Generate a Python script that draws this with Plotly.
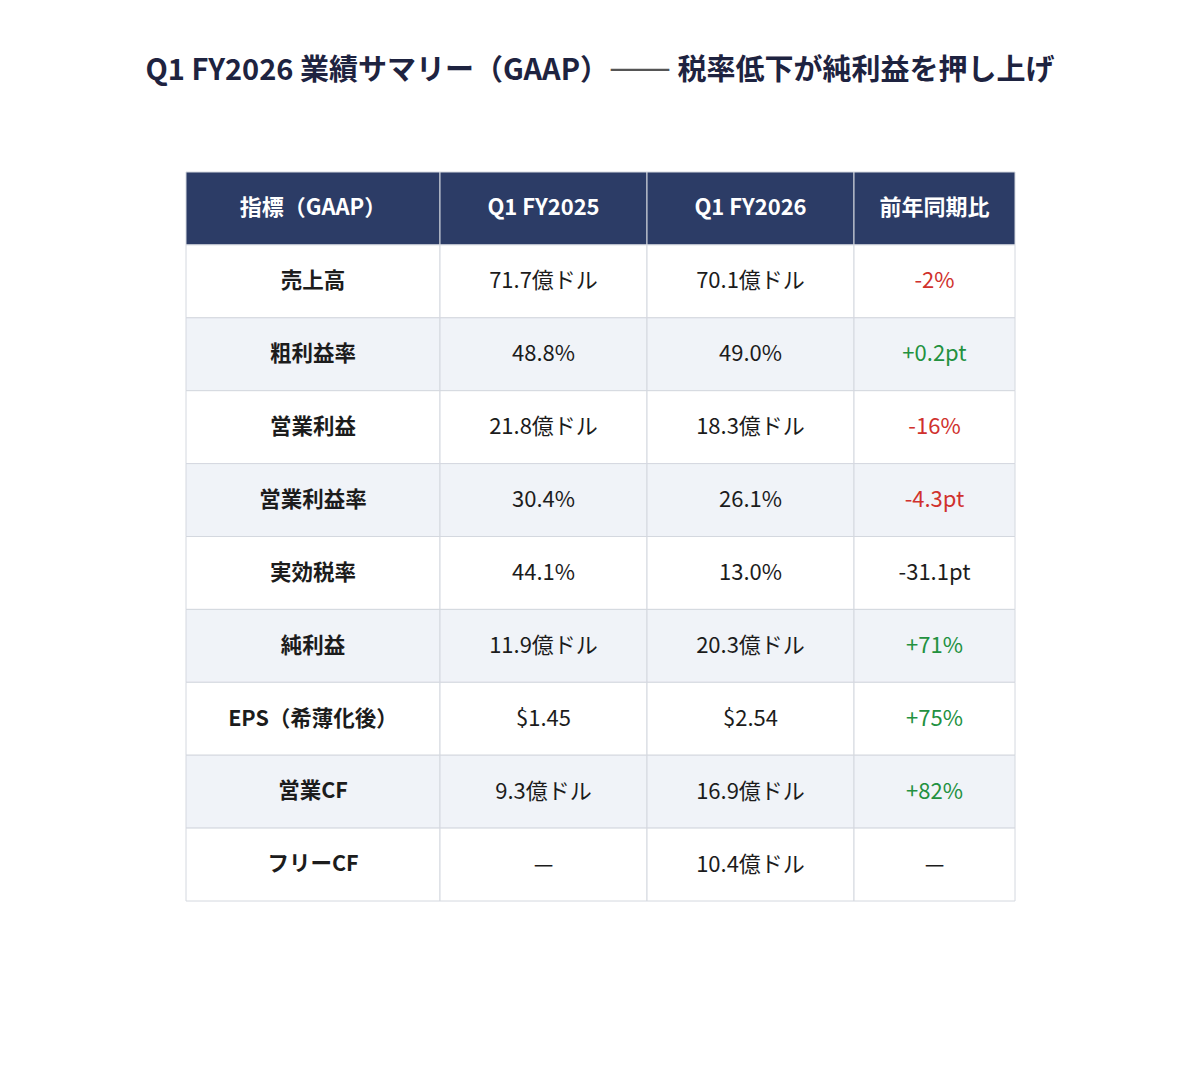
import numpy as np
import plotly.graph_objects as go

# data
title_left = "Q1 FY2026 業績サマリー（GAAP）"
title_right = "税率低下が純利益を押し上げ"
headers = ["指標（GAAP）", "Q1 FY2025", "Q1 FY2026", "前年同期比"]
metrics = ["売上高", "粗利益率", "営業利益", "営業利益率", "実効税率", "純利益",
           "EPS（希薄化後）", "営業CF", "フリーCF"]
fy2025 = ["71.7億ドル", "48.8%", "21.8億ドル", "30.4%", "44.1%", "11.9億ドル",
          "$1.45", "9.3億ドル", "—"]
fy2026 = ["70.1億ドル", "49.0%", "18.3億ドル", "26.1%", "13.0%", "20.3億ドル",
          "$2.54", "16.9億ドル", "10.4億ドル"]
yoy = ["-2%", "+0.2pt", "-16%", "-4.3pt", "-31.1pt", "+71%", "+75%", "+82%", "—"]
# good / bad / neutral for the change column
yoy_tone = ["bad", "good", "bad", "bad", "neutral", "good", "good", "good", "neutral"]

# layout / style (page is drawn 8px in from the window edge)
W, H = 1200, 1073
OFF = 8
FONT = "Noto Sans CJK JP"
NAVY = "#2c3c66"
TEXT = "#1c1c1c"
GRID = "#d4d8df"
tone_col = {"good": "#23913f", "bad": "#d0312d", "neutral": TEXT}
col_widths = [254, 207, 207, 161]
table_left = 186 - OFF
table_top = 172 - OFF
row_h = 72.9
text_dy = 0.02  # nudge text a touch below the cell middle

edges = table_left + np.concatenate([[0], np.cumsum(col_widths)])
centers = (edges[:-1] + edges[1:]) / 2
n = len(metrics)

fig = go.Figure()

shapes = []
for r in range(n + 1):
    if r == 0:
        fill = NAVY
    else:
        fill = "#ffffff" if r % 2 == 1 else "#f0f3f8"
    for c in range(len(col_widths)):
        shapes.append(dict(type="rect", xref="x", yref="y",
                           x0=edges[c], x1=edges[c + 1], y0=r, y1=r + 1,
                           fillcolor=fill, line=dict(color=GRID, width=1),
                           layer="below"))

# header text
fig.add_trace(go.Scatter(
    x=centers, y=[0.5 + text_dy] * len(headers), mode="text",
    text=["<b>%s</b>" % h for h in headers],
    textposition="middle center",
    textfont=dict(family=FONT, size=22, color="white"),
    hoverinfo="skip", showlegend=False,
))

rows_y = np.arange(n) + 1.5 + text_dy
columns = [["<b>%s</b>" % m for m in metrics], fy2025, fy2026, yoy]
colors = [[TEXT] * n, [TEXT] * n, [TEXT] * n, [tone_col[t] for t in yoy_tone]]
for c, (vals, cols) in enumerate(zip(columns, colors)):
    fig.add_trace(go.Scatter(
        x=[centers[c]] * n, y=rows_y, mode="text", text=vals,
        textposition="middle center",
        textfont=dict(family=FONT, size=22 if c else 21.5, color=cols),
        hoverinfo="skip", showlegend=False,
    ))

fig.update_layout(
    width=W, height=H,
    margin=dict(l=0, r=0, t=0, b=0),
    paper_bgcolor="white", plot_bgcolor="white",
    shapes=shapes,
    xaxis=dict(range=[0, W], visible=False, fixedrange=True),
    yaxis=dict(range=[(H - table_top) / row_h, -table_top / row_h],
               visible=False, fixedrange=True),
    title=dict(
        text="<b>%s</b><span style='color:#555555;font-size:37px'>——</span> <b>%s</b>"
             % (title_left, title_right),
        x=(600 - OFF) / W, xanchor="center", y=1 - (70 - OFF) / H, yanchor="middle",
        font=dict(family=FONT, size=29, color="#1e2340")),
)

fig.write_html("out.html")
